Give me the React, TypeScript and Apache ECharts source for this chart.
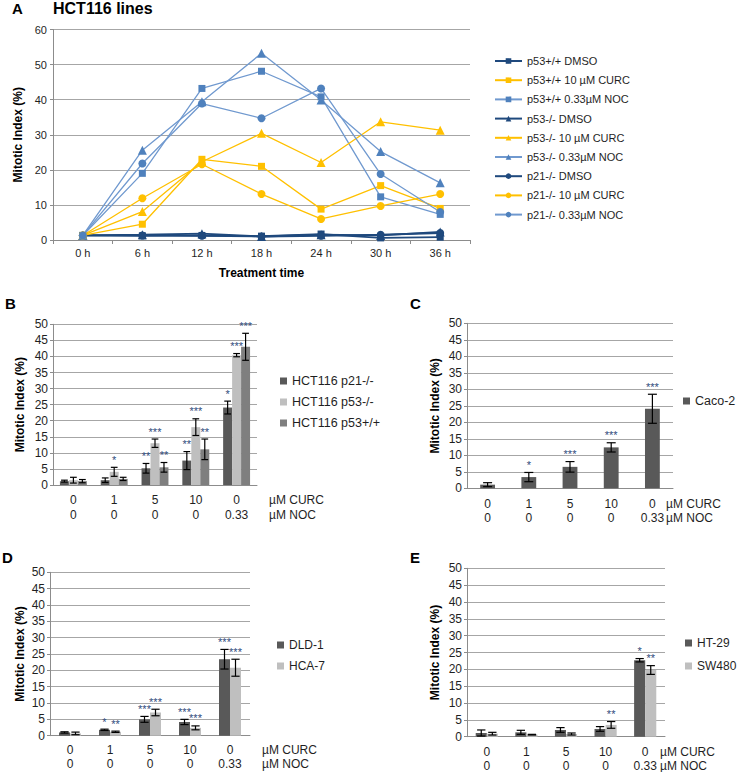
import React, { useEffect, useRef } from 'react';
import * as echarts from 'echarts';

// ---------- Panel A data ----------
const timeLabels = ['0 h', '6 h', '12 h', '18 h', '24 h', '30 h', '36 h'];
const lineNames = [
  'p53+/+ DMSO', 'p53+/+ 10 µM CURC', 'p53+/+ 0.33µM NOC',
  'p53-/- DMSO', 'p53-/- 10 µM CURC', 'p53-/- 0.33µM NOC',
  'p21-/- DMSO', 'p21-/- 10 µM CURC', 'p21-/- 0.33µM NOC',
];
const p53wtDMSO = [1.3, 1.2, 1.3, 1.1, 1.7, 0.6, 0.8];
const p53wtCURC = [1.3, 4.5, 23.0, 21.0, 8.8, 15.5, 9.0];
const p53wtNOC = [1.3, 19.0, 43.2, 48.1, 40.8, 12.3, 7.3];
const p53koDMSO = [1.3, 1.5, 1.8, 1.0, 1.5, 1.3, 2.3];
const p53koCURC = [1.3, 8.1, 22.3, 30.4, 22.1, 33.7, 31.3];
const p53koNOC = [1.3, 25.6, 39.4, 53.2, 39.9, 25.2, 16.3];
const p21koDMSO = [1.3, 1.3, 1.2, 1.0, 1.2, 1.5, 2.0];
const p21koCURC = [1.3, 11.9, 21.6, 13.1, 6.0, 9.7, 13.1];
const p21koNOC = [1.3, 21.8, 38.9, 34.7, 43.2, 18.8, 8.0];

// ---------- Bar panels: doses ----------
const doseCurc = ['0', '1', '5', '10', '0'];
const doseNoc = ['0', '0', '0', '0', '0.33'];

// Panel B
const bNames = ['HCT116 p21-/-', 'HCT116 p53-/-', 'HCT116 p53+/+'];
const bP21 = [1.2, 1.5, 5.2, 7.6, 24.1];
const bP21Err = [0.3, 0.7, 1.5, 2.8, 2.0];
const bP21Stars = ['', '', '**', '**', '*'];
const bP53ko = [1.5, 4.1, 13.0, 18.0, 40.4];
const bP53koErr = [0.9, 1.4, 1.3, 2.6, 0.5];
const bP53koStars = ['', '*', '***', '***', '***'];
const bP53wt = [1.2, 1.9, 5.5, 11.1, 43.0];
const bP53wtErr = [0.5, 0.5, 1.5, 3.2, 4.2];
const bP53wtStars = ['', '', '**', '**', '***'];

// Panel C
const cNames = ['Caco-2'];
const cCaco = [1.1, 3.4, 6.5, 12.4, 24.1];
const cCacoErr = [0.6, 1.4, 1.6, 1.4, 4.4];
const cCacoStars = ['', '*', '***', '***', '***'];

// Panel D
const dNames = ['DLD-1', 'HCA-7'];
const dDld = [1.0, 1.8, 5.0, 4.2, 23.4];
const dDldErr = [0.2, 0.2, 0.9, 0.8, 3.0];
const dDldStars = ['', '*', '***', '***', '***'];
const dHca = [0.7, 1.2, 7.1, 2.4, 20.8];
const dHcaErr = [0.4, 0.2, 1.0, 0.6, 2.6];
const dHcaStars = ['', '**', '***', '***', '***'];

// Panel E
const eNames = ['HT-29', 'SW480'];
const eHt = [1.1, 1.3, 2.0, 2.3, 22.7];
const eHtErr = [0.9, 0.6, 0.7, 0.7, 0.5];
const eHtStars = ['', '', '', '', '*'];
const eSw = [0.9, 0.6, 0.8, 3.5, 19.8];
const eSwErr = [0.4, 0.1, 0.3, 1.0, 1.3];
const eSwStars = ['', '', '', '**', '**'];

const FONT = "'Liberation Sans', Arial, sans-serif";
const GRID = '#A6A6A6';
const AXIS = '#8C8C8C';
const TXT = '#1F1F1F';
const STAR = '#2F4B7C';
const NAVY = '#1F497D';
const YEL = '#FFC000';
const BLUE = '#4F81BD';
const BLUE_LINE = '#7099CF';
const DARK = '#595959';
const LIGHT = '#BFBFBF';
const MID = '#7F7F7F';

function errRender(stars: string[], idx: number, n: number, gap: number) {
  return (params: any, api: any) => {
    const i = api.value(0);
    const v = api.value(1);
    const e = api.value(2);
    const base = api.coord([i, v]);
    const catW = api.size([1, 0])[0];
    const groupW = catW * (1 - gap);
    const bw = groupW / n;
    const x = base[0] - groupW / 2 + bw * (idx + 0.5);
    const yTop = api.coord([i, v + e])[1];
    const yBot = api.coord([i, Math.max(0, v - e)])[1];
    const cap = Math.min(bw * 0.75, 9) / 2;
    const st = { stroke: '#000', lineWidth: 1.2 };
    const children: any[] = [
      { type: 'line', shape: { x1: x, y1: yTop, x2: x, y2: yBot }, style: st },
      { type: 'line', shape: { x1: x - cap, y1: yTop, x2: x + cap, y2: yTop }, style: st },
      { type: 'line', shape: { x1: x - cap, y1: yBot, x2: x + cap, y2: yBot }, style: st },
    ];
    const s = stars[params.dataIndex];
    if (s) {
      children.push({
        type: 'text',
        style: {
          text: s, x, y: yTop - 2, align: 'center', verticalAlign: 'bottom',
          fill: STAR, fontSize: 11, fontFamily: FONT,
        },
      });
    }
    return { type: 'group', children };
  };
}

function buildOption() {
  const grids: any[] = [
    { left: 53, top: 29.5, width: 417, height: 210.5 },
    { left: 53, top: 324.3, width: 204, height: 160.7 },
    { left: 467, top: 323.3, width: 206, height: 165 },
    { left: 50, top: 572.3, width: 200, height: 163.4 },
    { left: 467, top: 568.3, width: 198, height: 168.4 },
  ].map((g) => ({ ...g, outerBoundsMode: 'none', containLabel: false }));

  const labelA = { fontSize: 11, color: TXT, fontFamily: FONT };
  const labelB = { fontSize: 12, color: TXT, fontFamily: FONT };
  const nameStyle = { fontSize: 12, color: '#000', fontFamily: FONT, fontWeight: 'bold' };

  const xAxis: any[] = [
    {
      type: 'category', gridIndex: 0, data: timeLabels, boundaryGap: true,
      axisLine: { lineStyle: { color: AXIS } },
      axisTick: { show: true, length: 4, lineStyle: { color: AXIS } },
      axisLabel: { ...labelA, margin: 7 },
      name: 'Treatment time', nameLocation: 'middle', nameGap: 26.5, nameTextStyle: nameStyle,
    },
  ];
  const yAxis: any[] = [
    {
      type: 'value', gridIndex: 0, min: 0, max: 60, interval: 10,
      axisLine: { show: true, lineStyle: { color: AXIS } },
      axisTick: { show: true, length: 3, lineStyle: { color: AXIS } },
      splitLine: { lineStyle: { color: GRID } },
      axisLabel: { ...labelA, margin: 6 },
      name: 'Mitotic Index (%)', nameLocation: 'middle', nameGap: 27, nameTextStyle: nameStyle,
    },
  ];

  const lineSets = [p53wtDMSO, p53wtCURC, p53wtNOC, p53koDMSO, p53koCURC, p53koNOC, p21koDMSO, p21koCURC, p21koNOC];
  const symbols = ['rect', 'rect', 'rect', 'triangle', 'triangle', 'triangle', 'circle', 'circle', 'circle'];
  const sizes: Record<string, number> = { rect: 7, triangle: 9, circle: 8 };
  const series: any[] = [];
  lineSets.forEach((d, k) => {
    const kind = k % 3;
    const mark = kind === 0 ? NAVY : kind === 1 ? YEL : BLUE;
    const lc = kind === 0 ? NAVY : kind === 1 ? YEL : BLUE_LINE;
    series.push({
      type: 'line', name: lineNames[k], xAxisIndex: 0, yAxisIndex: 0, data: d,
      symbol: symbols[k], symbolSize: sizes[symbols[k]],
      itemStyle: { color: mark },
      lineStyle: { color: lc, width: kind === 0 ? 1.8 : 1.3 },
      z: kind === 0 ? 2 : 3,
    });
  });

  const panels = [
    {
      gi: 1, gap: 0.34, names: bNames, colors: [DARK, LIGHT, MID],
      vals: [bP21, bP53ko, bP53wt], errs: [bP21Err, bP53koErr, bP53wtErr], stars: [bP21Stars, bP53koStars, bP53wtStars],
      yGap: 27, legend: { left: 280, top: 374, itemGap: 7, fs: 12.5 }, unit: { x: 269, y: 492.5 }, lm: 7.5, lh: 15,
    },
    {
      gi: 2, gap: 0.64, names: cNames, colors: [DARK],
      vals: [cCaco], errs: [cCacoErr], stars: [cCacoStars],
      yGap: 26, legend: { left: 683, top: 394, itemGap: 7, fs: 12.5 }, unit: { x: 666, y: 497 }, lm: 8.5, lh: 14,
    },
    {
      gi: 3, gap: 0.45, names: dNames, colors: [DARK, LIGHT],
      vals: [dDld, dHca], errs: [dDldErr, dHcaErr], stars: [dDldStars, dHcaStars],
      yGap: 24, legend: { left: 277, top: 638, itemGap: 7, fs: 12 }, unit: { x: 262, y: 743 }, lm: 7.5, lh: 14,
    },
    {
      gi: 4, gap: 0.44, names: eNames, colors: [DARK, LIGHT],
      vals: [eHt, eSw], errs: [eHtErr, eSwErr], stars: [eHtStars, eSwStars],
      yGap: 26, legend: { left: 685, top: 636, itemGap: 9, fs: 12 }, unit: { x: 660, y: 745 }, lm: 8.5, lh: 14,
    },
  ];

  const legends: any[] = [
    {
      orient: 'vertical', left: 494, top: 54.5, itemGap: 6.2, itemWidth: 27, itemHeight: 7, padding: 0,
      data: lineNames, textStyle: { ...labelA, lineHeight: 13 }, selectedMode: false,
    },
  ];

  const letter = (t: string, left: number, top: number, fs = 15) => ({
    type: 'text', left, top,
    style: { text: t, fontSize: fs, fontWeight: 'bold', fill: '#000', fontFamily: FONT },
  });
  const graphic: any[] = [
    letter('A', 12, 1),
    letter('HCT116 lines', 53, 0, 16),
    letter('B', 5, 296),
    letter('C', 410, 296),
    letter('D', 2, 550),
    letter('E', 410, 550),
  ];

  panels.forEach((p) => {
    xAxis.push({
      type: 'category', gridIndex: p.gi, data: doseCurc.map((c, i) => c + '\n' + doseNoc[i]),
      axisLine: { lineStyle: { color: AXIS } }, axisTick: { show: false },
      axisLabel: { ...labelB, margin: p.lm, lineHeight: p.lh, interval: 0 },
    });
    yAxis.push({
      type: 'value', gridIndex: p.gi, min: 0, max: 50, interval: 5,
      axisLine: { show: true, lineStyle: { color: AXIS } },
      axisTick: { show: true, length: 3, lineStyle: { color: AXIS } },
      splitLine: { lineStyle: { color: GRID } },
      axisLabel: { ...labelB, margin: 5 },
      name: 'Mitotic Index (%)', nameLocation: 'middle', nameGap: p.yGap, nameTextStyle: nameStyle,
    });
    const n = p.names.length;
    p.names.forEach((nm, k) => {
      series.push({
        type: 'bar', name: nm, xAxisIndex: p.gi, yAxisIndex: p.gi, data: p.vals[k],
        barGap: '0%', barCategoryGap: Math.round(p.gap * 100) + '%',
        itemStyle: { color: p.colors[k] }, z: 2,
      });
      series.push({
        type: 'custom', name: nm + ' err', xAxisIndex: p.gi, yAxisIndex: p.gi,
        data: p.vals[k].map((v, i) => [i, v, p.errs[k][i]]),
        encode: { x: 0, y: 1 },
        renderItem: errRender(p.stars[k], k, n, p.gap), z: 5, silent: true,
      });
    });
    legends.push({
      orient: 'vertical', left: p.legend.left, top: p.legend.top, itemGap: p.legend.itemGap, padding: 0,
      itemWidth: 7, itemHeight: 7, icon: 'rect', data: p.names,
      textStyle: { ...labelB, fontSize: p.legend.fs, lineHeight: 14 }, selectedMode: false,
    });
    graphic.push({
      type: 'text', left: p.unit.x, top: p.unit.y,
      style: { text: 'µM CURC\nµM NOC', fontSize: 12, lineHeight: p.lh, fill: TXT, fontFamily: FONT },
    });
  });

  return {
    animation: false,
    backgroundColor: '#fff',
    textStyle: { fontFamily: FONT },
    grid: grids,
    xAxis,
    yAxis,
    legend: legends,
    series,
    graphic,
  };
}

export default function App() {
  const ref = useRef<HTMLDivElement>(null);
  useEffect(() => {
    const chart = echarts.init(ref.current!, null, { renderer: 'svg' });
    chart.setOption(buildOption() as any);
    return () => chart.dispose();
  }, []);
  return (
    <div
      ref={ref}
      style={{ position: 'fixed', left: 0, top: 0, width: 737, height: 772, background: '#fff' }}
    />
  );
}
